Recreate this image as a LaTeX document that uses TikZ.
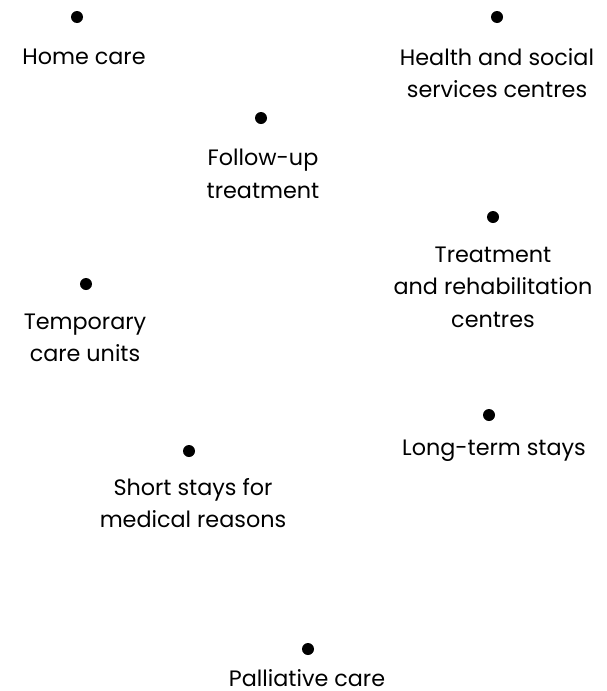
\documentclass[tikz,border=0pt]{standalone}
\usepackage{fontspec}
\setmainfont{Poppins}
\begin{document}
\begin{tikzpicture}[x=1pt,y=-1pt,
  dot/.style={circle,fill=black,inner sep=0pt,minimum size=12pt},
  lbl/.style={align=center,inner sep=0pt,font=\fontsize{22.3}{32.5}\selectfont}]
\useasboundingbox (0,0) rectangle (606,691);
\node[dot] (d1) at (77,17) {};
\node[lbl] (t1) at (84,57) {Home care};
\node[dot] (d2) at (497,17) {};
\node[lbl] (t2) at (497,73) {Health and social\\services centres};
\node[dot] (d3) at (261,118) {};
\node[lbl] (t3) at (263,174) {Follow-up\\treatment};
\node[dot] (d4) at (493,217) {};
\node[lbl] (t4) at (493,287) {Treatment\\and rehabilitation\\centres};
\node[dot] (d5) at (86,284) {};
\node[lbl] (t5) at (85,338) {Temporary\\care units};
\node[dot] (d6) at (489,415) {};
\node[lbl] (t6) at (494,451) {Long-term stays};
\node[dot] (d7) at (189,451) {};
\node[lbl] (t7) at (193,503) {Short stays for\\medical reasons};
\node[dot] (d8) at (308,649) {};
\node[lbl] (t8) at (307,678) {Palliative care};
\end{tikzpicture}
\end{document}
